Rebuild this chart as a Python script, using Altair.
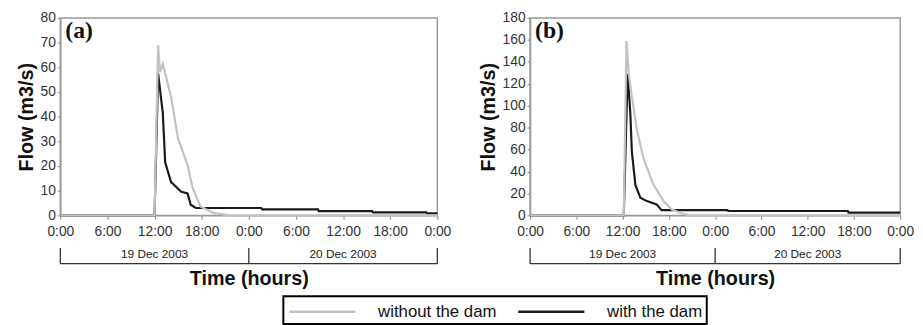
import altair as alt
import pandas as pd

# ---- data (hours from 19 Dec 2003 0:00, flow m3/s) ----
gray_a_t = [0, 12.0, 12.45, 12.7, 13.05, 14.1, 15.0, 16.2, 16.85, 17.85, 19.5, 21.5, 48]
gray_a_q = [0, 0, 69, 58, 61.5, 48, 31, 20.5, 11, 3.6, 1, 0, 0]

black_a_t = [0, 12.0, 12.45, 13.05, 13.35, 14.1, 15.4, 16.2, 16.6, 17.25, 25.6, 25.7, 32.8, 32.9, 39.7, 39.8, 46.6, 46.7, 48]
black_a_q = [0, 0, 57.5, 41.5, 21.5, 13.5, 9.6, 8.9, 4.3, 3.0, 3.0, 2.4, 2.4, 1.7, 1.7, 1.2, 1.2, 0.8, 0.8]

gray_b_t = [0, 12.15, 12.5, 12.8, 13.2, 13.85, 14.7, 16.0, 17.3, 18.35, 19.2, 20.5, 48]
gray_b_q = [0, 0, 159, 129, 108, 78, 52, 28, 13, 5.5, 3, 0, 0]

black_b_t = [0, 12.15, 12.65, 13.0, 13.2, 13.65, 14.3, 15.15, 16.4, 17.05, 25.6, 25.7, 41.2, 41.3, 48]
black_b_q = [0, 0, 129, 93, 58, 28, 16, 13, 10, 4.8, 4.8, 4.0, 4.0, 2.5, 2.5]

series_names = ["without the dam", "with the dam"]
series_colors = ["#c2c2c2", "#1a1a1a"]
x_ticks = [0, 6, 12, 18, 24, 30, 36, 42, 48]
day_centers = [12, 36]
day_labels = ["19 Dec 2003", "20 Dec 2003"]
day_bounds = [0, 24, 48]

FONT = "Liberation Sans"
H = 200


def frame(t, q, name):
    return pd.DataFrame({"t": t, "q": q, "series": name})


def make_panel(gt, gq, bt, bq, ymax, ystep, tag, width):
    gray = frame(gt, gq, series_names[0])
    black = frame(bt, bq, series_names[1])
    color = alt.Color(
        "series:N",
        scale=alt.Scale(domain=series_names, range=series_colors),
        legend=alt.Legend(
            title=None,
            orient="none",
            direction="horizontal",
            legendX=226,
            legendY=282,
            symbolType="M-3.35,0H3.35",
            symbolSize=400,
            symbolOffset=24,
            symbolStrokeWidth=2.5,
            labelFontSize=17,
            labelFont=FONT,
            labelColor="#111",
            labelOffset=45,
            columnPadding=16,
            padding=4,
            strokeColor="black",
        ),
    )
    xscale = alt.Scale(domain=[0, 48], nice=False)
    xaxis = alt.Axis(
        values=x_ticks,
        labelExpr="(datum.value % 24) + ':00'",
        title="Time (hours)",
        titleFontSize=20,
        titleFontWeight="bold",
        titleColor="#111",
        titlePadding=31,
        labelFontSize=14,
        labelColor="#333",
        labelFlush=False,
        labelOverlap=False,
        labelPadding=5,
        tickSize=4,
        tickColor="#888",
        domainColor="#999",
        domainWidth=1.5,
        grid=False,
    )
    yscale = alt.Scale(domain=[0, ymax], nice=False)
    yaxis = alt.Axis(
        values=list(range(0, ymax + 1, ystep)),
        title="Flow (m3/s)",
        titleFontSize=20,
        titleFontWeight="bold",
        titleColor="#111",
        titlePadding=4,
        labelFontSize=14,
        labelColor="#333",
        labelFlush=False,
        labelOverlap=False,
        labelPadding=2,
        tickSize=3,
        tickColor="#888",
        domainColor="#999",
        domainWidth=1.5,
        grid=False,
    )
    xenc = alt.X("t:Q", scale=xscale, axis=xaxis)
    yenc = alt.Y("q:Q", scale=yscale, axis=yaxis)
    lb = alt.Chart(black).mark_line(strokeWidth=2.2).encode(x=xenc, y=yenc, color=color, order="t:Q")
    lg = alt.Chart(gray).mark_line(strokeWidth=2.2).encode(x=xenc, y=yenc, color=color, order="t:Q")
    tag_txt = alt.Chart(pd.DataFrame({"tag": [tag]})).mark_text(
        font="Liberation Serif", fontWeight="bold", fontSize=24, align="left", baseline="middle", color="#111"
    ).encode(x=alt.value(5), y=alt.value(13), text="tag:N")
    hbar = alt.Chart(pd.DataFrame({"t": [day_bounds[0]], "b": [day_bounds[-1]]})).mark_rule(
        color="#333", strokeWidth=1.3
    ).encode(x=xenc, x2="b:Q", y=alt.value(H + 49))
    vbars = alt.Chart(pd.DataFrame({"t": day_bounds})).mark_rule(color="#333", strokeWidth=1.3).encode(
        x=xenc, y=alt.value(H + 33), y2=alt.value(H + 49)
    )
    days = alt.Chart(pd.DataFrame({"t": day_centers, "d": day_labels})).mark_text(
        font=FONT, fontSize=12, color="#222", baseline="middle"
    ).encode(x=xenc, y=alt.value(H + 39), text="d:N")
    return alt.layer(lb, lg, tag_txt, hbar, vbars, days).properties(width=width, height=H)


pa = make_panel(gray_a_t, gray_a_q, black_a_t, black_a_q, 80, 10, "(a)", 382)
pb = make_panel(gray_b_t, gray_b_q, black_b_t, black_b_q, 180, 20, "(b)", 375)

chart = (
    alt.hconcat(pa, pb, spacing=25)
    .resolve_scale(y="independent")
    .properties(padding={"left": 7, "top": 0, "right": 0, "bottom": 0})
    .configure(font=FONT)
    .configure_view(stroke="#999", strokeWidth=1.5)
    .configure_legend(strokeWidth=2)
)

chart.save("out.html", embed_options={"renderer": "svg", "actions": False})
